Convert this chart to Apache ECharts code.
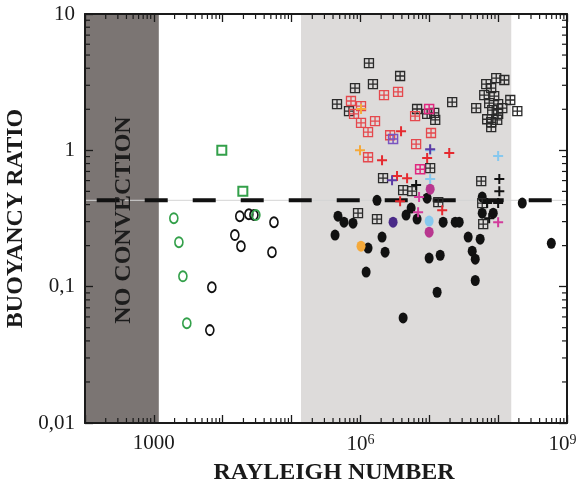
<!DOCTYPE html>
<html>
<head>
<meta charset="utf-8">
<script src="https://cdn.jsdelivr.net/npm/echarts@6/dist/echarts.min.js"></script>
<style>
  html, body { margin: 0; padding: 0; background: #fff; }
  #chart { width: 579px; height: 486px; }
</style>
</head>
<body>
<div id="chart"></div>
<script>
// axes
const xRange = [1e2, 1e9];
const yRange = [0.01, 10];
const xTickLabels = { 3: '1000', 6: '{b|10}{s|6}', 9: '{b|10}{t|9}' };
const yTickLabels = { '1': '10', '0': '1', '-1': '0,1', '-2': '0,01' };
const mantissas = [2, 3, 4, 5, 6, 7, 8, 9];

// shaded regions and critical ratio
const noConvection = [1e2, 1.18e3];
const experimentBand = [1.37e5, 1.55e8];
const criticalRatio = 0.43;
const criticalSpan = [148, 6.2e8];

// [Rayleigh number, buoyancy ratio]
const greenSquares = [[9.7e3, 1.0], [1.96e4, 0.50]];
const greenCircles = [[1950, 0.318], [2310, 0.212], [2640, 0.119], [3010, 0.054], [3.03e4, 0.335]];
const blackCircles = [
  [1.77e4, 0.329], [2.4e4, 0.34], [2.84e4, 0.335], [5.55e4, 0.297], [1.5e4, 0.239],
  [1.84e4, 0.198], [5.19e4, 0.179], [6950, 0.099], [6500, 0.048]
];
const blackDots = [
  [1.74e6, 0.43], [4.72e5, 0.329], [5.77e5, 0.297], [7.8e5, 0.292], [4.28e5, 0.239],
  [2.06e6, 0.231], [1.29e6, 0.192], [2.28e6, 0.179], [1.21e6, 0.128], [4.17e6, 0.059],
  [4.6e6, 0.335], [5.45e6, 0.377], [6.65e6, 0.313], [9.3e6, 0.446], [9.95e6, 0.162],
  [1.44e7, 0.17], [1.3e7, 0.091], [1.59e7, 0.297], [2.38e7, 0.297], [2.72e7, 0.297],
  [3.67e7, 0.231], [5.48e7, 0.223], [4.2e7, 0.182], [4.65e7, 0.159], [4.65e7, 0.111],
  [5.87e7, 0.454], [5.87e7, 0.346], [8.49e7, 0.346], [2.24e8, 0.41], [5.92e8, 0.208]
];
const purpleDots = [[2.98e6, 0.297]];
const magentaDots = [[1.03e7, 0.519], [9.95e6, 0.251]];
const blueDots = [[9.95e6, 0.303]];
const orangeDots = [[1.02e6, 0.198]];
const blackGrids = [
  [1.33e6, 4.36], [3.77e6, 3.51], [8.34e5, 2.86], [1.52e6, 3.06], [4.57e5, 2.18],
  [6.82e5, 1.94], [2.15e7, 2.26], [4.8e7, 2.04], [6.65e6, 2.01], [9.31e6, 1.85],
  [1.18e7, 1.88], [1.22e7, 1.67], [9.38e7, 3.39], [1.23e8, 3.28], [6.71e7, 3.06],
  [7.93e7, 2.86], [6.28e7, 2.54], [8.77e7, 2.5], [1.5e8, 2.34], [7.41e7, 2.22],
  [1.0e8, 2.18], [8.2e7, 1.97], [1.15e8, 2.04], [1.9e8, 1.94], [1.0e8, 1.85],
  [6.93e7, 1.69], [9.7e7, 1.67], [7.93e7, 1.61], [7.93e7, 1.48], [1.03e7, 0.741],
  [2.13e6, 0.625], [4.17e6, 0.51], [5.62e6, 0.502], [5.68e7, 0.594], [1.35e7, 0.417],
  [5.87e7, 0.41], [6.07e7, 0.288], [9.23e5, 0.346], [1.74e6, 0.313]
];
const redGrids = [
  [2.2e6, 2.54], [3.52e6, 2.68], [7.29e5, 2.3], [1.02e6, 2.11], [8.07e5, 1.85],
  [1.02e6, 1.59], [1.63e6, 1.64], [1.29e6, 1.36], [2.7e6, 1.29], [6.22e6, 1.78],
  [1.06e7, 1.34], [6.44e6, 1.11], [1.29e6, 0.89]
];
const magentaGrids = [[9.95e6, 2.01], [7.36e6, 0.728]];
const purpleGrids = [[2.98e6, 1.21]];
const redPluses = [
  [3.89e6, 1.38], [9.31e6, 0.877], [1.95e7, 0.955], [2.06e6, 0.847], [3.4e6, 0.647],
  [4.76e6, 0.625], [3.77e6, 0.424], [1.54e7, 0.364]
];
const blackPluses = [[6.44e6, 0.556], [1.04e8, 0.615], [1.04e8, 0.502], [1.0e8, 0.41], [6.93e7, 0.41], [7.41e7, 0.318]];
const bluePluses = [[1.03e7, 1.0], [1.0e8, 0.908], [1.03e7, 0.615]];
const orangePluses = [[1.02e6, 2.01], [9.86e5, 1.0]];
const magentaPluses = [[7.11e6, 0.454], [6.88e6, 0.352], [1.0e8, 0.297]];
const purplePluses = [[2.88e6, 0.604], [1.03e7, 1.02]];

const FONT = '"Liberation Serif", "Times New Roman", serif';
const GRID_SYM = 'path://M0,0H10V10H0ZM5,0V10M0,5H10';
const PLUS_SYM = 'path://M5,0V10M0,5H10';

const xMinor = [];
for (let e = 2; e < 9; e++) mantissas.forEach(m => xMinor.push(m * Math.pow(10, e)));
const yMinor = [];
for (let e = -2; e < 1; e++) mantissas.forEach(m => yMinor.push(m * Math.pow(10, e)));

function openMarks(data, symbol, size, color, width) {
  return {
    type: 'scatter', data: data, symbol: symbol, symbolSize: size, z: 3,
    itemStyle: { color: 'rgba(0,0,0,0)', borderColor: color, borderWidth: width, opacity: 1 }
  };
}

function dots(data, color) {
  return { type: 'scatter', data: data, symbol: 'circle', symbolSize: [9, 11], z: 3, itemStyle: { color: color, opacity: 1 } };
}

function minorTicks(dim) {
  const data = dim === 'x' ? xMinor.map(v => [v, yRange[0]]) : yMinor.map(v => [xRange[0], v]);
  return {
    type: 'custom', silent: true, z: 10, clip: false, data: data,
    renderItem: (params, api) => {
      const st = { stroke: '#1a1a1a', lineWidth: 1.2 };
      if (dim === 'x') {
        const v = api.value(0);
        const a = api.coord([v, yRange[0]]);
        const b = api.coord([v, yRange[1]]);
        return { type: 'group', children: [
          { type: 'line', shape: { x1: a[0], y1: a[1], x2: a[0], y2: a[1] - 5 }, style: st },
          { type: 'line', shape: { x1: b[0], y1: b[1], x2: b[0], y2: b[1] + 5 }, style: st }
        ] };
      }
      const v = api.value(1);
      const a = api.coord([xRange[0], v]);
      const b = api.coord([xRange[1], v]);
      return { type: 'group', children: [
        { type: 'line', shape: { x1: a[0], y1: a[1], x2: a[0] + 5, y2: a[1] }, style: st },
        { type: 'line', shape: { x1: b[0], y1: b[1], x2: b[0] - 5, y2: b[1] }, style: st }
      ] };
    }
  };
}

const frameAxis = {
  type: 'log', logBase: 10, z: 10,
  axisLine: { show: true, lineStyle: { color: '#1a1a1a', width: 2 } },
  axisTick: { show: true, inside: true, length: 8, lineStyle: { color: '#1a1a1a', width: 1.3 } },
  splitLine: { show: false }
};

const chart = echarts.init(document.getElementById('chart'));
chart.setOption({
  animation: false,
  backgroundColor: '#fff',
  grid: { left: 85, right: 12, top: 14, bottom: 63, containLabel: false, outerBoundsMode: 'none' },
  xAxis: [
    Object.assign({}, frameAxis, {
      min: xRange[0], max: xRange[1], position: 'bottom',
      name: 'RAYLEIGH NUMBER', nameLocation: 'middle', nameGap: 38,
      nameTextStyle: { fontFamily: FONT, fontWeight: 'bold', fontSize: 24, color: '#1a1a1a', padding: [0, 0, 0, 16] },
      axisLabel: {
        margin: 10, fontFamily: FONT, fontSize: 21, color: '#1a1a1a',
        formatter: v => xTickLabels[Math.round(Math.log10(v))] || '',
        rich: {
          b: { fontFamily: FONT, fontSize: 21, color: '#1a1a1a' },
          s: { fontFamily: FONT, fontSize: 14, color: '#1a1a1a', verticalAlign: 'top', padding: [0, 0, 8, 0] },
          t: { fontFamily: FONT, fontSize: 14, color: '#1a1a1a', verticalAlign: 'top', padding: [0, 9, 8, 0] }
        }
      }
    }),
    Object.assign({}, frameAxis, { min: xRange[0], max: xRange[1], position: 'top', axisLabel: { show: false } })
  ],
  yAxis: [
    Object.assign({}, frameAxis, {
      min: yRange[0], max: yRange[1], position: 'left',
      name: 'BUOYANCY RATIO', nameLocation: 'middle', nameGap: 46,
      nameTextStyle: { fontFamily: FONT, fontWeight: 'bold', fontSize: 24, color: '#1a1a1a' },
      axisLabel: {
        margin: 10, fontFamily: FONT, fontSize: 21, color: '#1a1a1a',
        formatter: v => yTickLabels[String(Math.round(Math.log10(v)))] || ''
      }
    }),
    Object.assign({}, frameAxis, { min: yRange[0], max: yRange[1], position: 'right', axisLabel: { show: false } })
  ],
  graphic: [{
    type: 'text', x: 124, y: 220, rotation: Math.PI / 2, z: 20,
    style: {
      text: 'NO CONVECTION', fontFamily: FONT, fontWeight: 'bold', fontSize: 24, fill: '#1c1c1c',
      align: 'center', verticalAlign: 'middle', textAlign: 'center', textVerticalAlign: 'middle'
    }
  }],
  series: [
    {
      type: 'line', data: [[xRange[0], criticalRatio], [xRange[1], criticalRatio]], symbol: 'none', silent: true, z: 1,
      lineStyle: { color: '#d4d4d4', width: 1 },
      markArea: {
        silent: true,
        data: [
          [{ xAxis: noConvection[0], itemStyle: { color: '#7b7573' } }, { xAxis: noConvection[1] }],
          [{ xAxis: experimentBand[0], itemStyle: { color: '#dddbda' } }, { xAxis: experimentBand[1] }]
        ]
      }
    },
    {
      type: 'line', data: [[criticalSpan[0], criticalRatio], [criticalSpan[1], criticalRatio]], symbol: 'none', silent: true, z: 2,
      lineStyle: { color: '#111', width: 4, type: [23, 25], cap: 'butt' }
    },
    dots(blackDots, '#111'),
    dots(purpleDots, '#4a2a88'),
    dots(magentaDots, '#b8378f'),
    dots(blueDots, '#86c8ee'),
    dots(orangeDots, '#f5a93a'),
    openMarks(blackCircles, 'circle', [8, 10], '#111', 1.8),
    openMarks(greenCircles, 'circle', [8, 10], '#33a04a', 1.8),
    openMarks(greenSquares, 'rect', 9, '#33a04a', 2),
    openMarks(blackGrids, GRID_SYM, 9, '#2a2a2a', 1.3),
    openMarks(redGrids, GRID_SYM, 9, '#e5484d', 1.3),
    openMarks(magentaGrids, GRID_SYM, 9, '#e0287f', 1.5),
    openMarks(purpleGrids, GRID_SYM, 9, '#7a55c0', 1.5),
    openMarks(redPluses, PLUS_SYM, 10, '#e52a2f', 2),
    openMarks(blackPluses, PLUS_SYM, 10, '#111', 2),
    openMarks(bluePluses, PLUS_SYM, 10, '#86c8ee', 2),
    openMarks(orangePluses, PLUS_SYM, 10, '#f5a93a', 2),
    openMarks(magentaPluses, PLUS_SYM, 10, '#d23c9c', 2),
    openMarks(purplePluses, PLUS_SYM, 10, '#5b3aa5', 2),
    minorTicks('x'),
    minorTicks('y')
  ]
});
</script>
</body>
</html>
